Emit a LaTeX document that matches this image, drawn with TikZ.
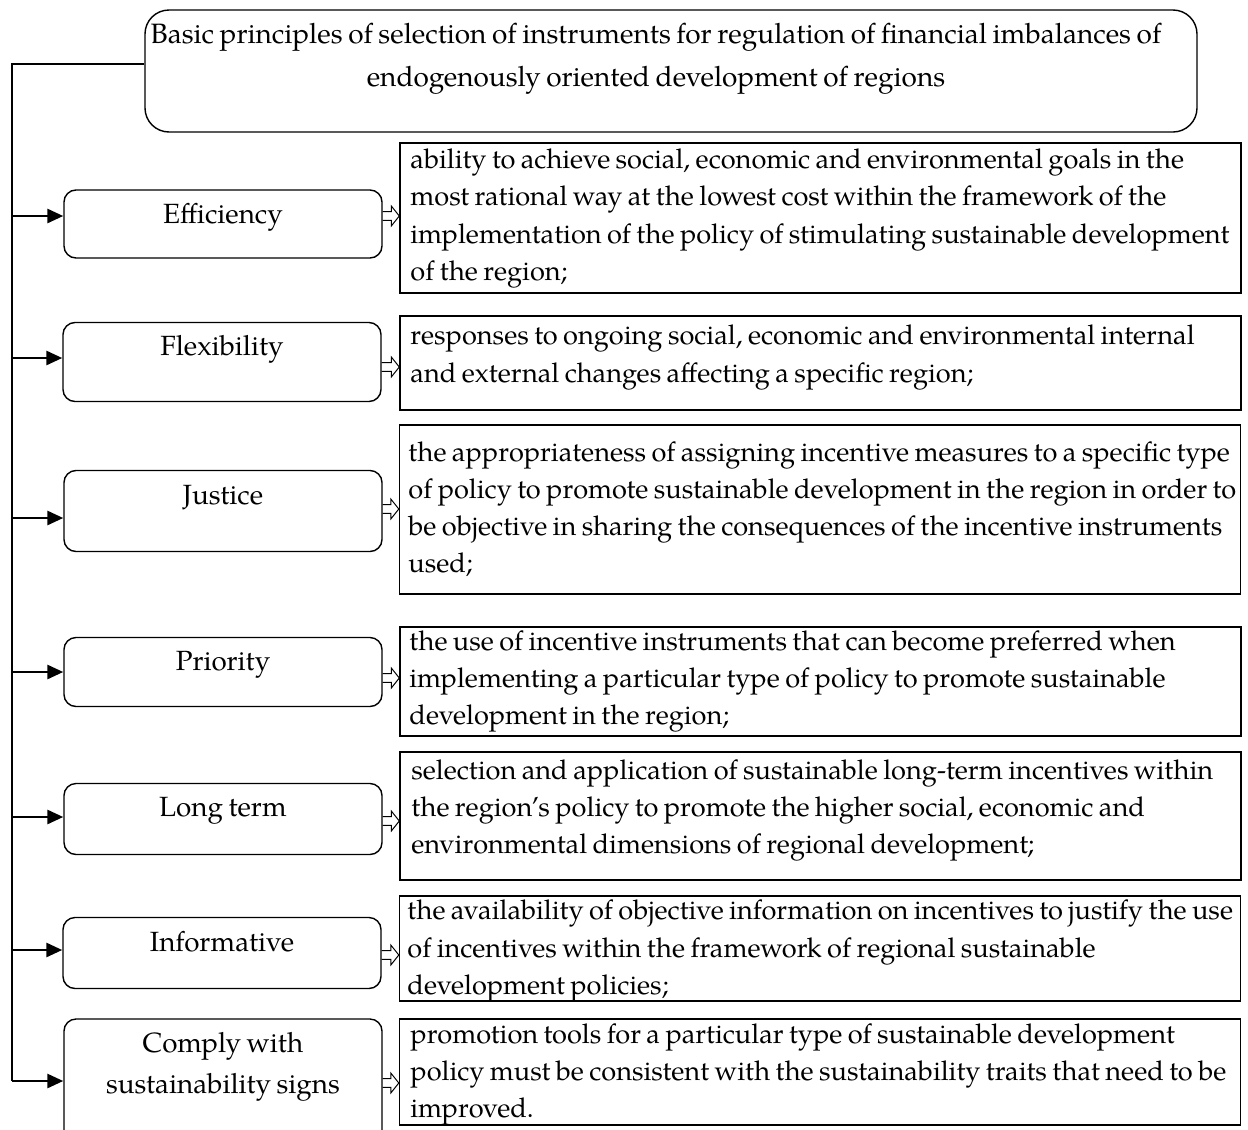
\documentclass[tikz,border=0pt]{standalone}
\usepackage{fontspec}
\setmainfont{texgyrepagella-regular.otf}[WordSpace=0.8]
\usetikzlibrary{arrows.meta}
\begin{document}
\begin{tikzpicture}[x=0.5pt,y=-0.5pt,
  font=\fontsize{13.6}{18.55}\selectfont,
  headbox/.style={draw, line width=0.7pt, rounded corners=12pt,
    minimum width=526pt, minimum height=61pt},
  principle/.style={draw, line width=0.7pt, rounded corners=6pt,
    minimum width=159pt, inner sep=0pt, font=\fontsize{13.9}{20.5}\selectfont},
  explain/.style={draw, line width=0.7pt, minimum width=420.5pt, inner sep=0pt},
  desc/.style={anchor=west, align=left, inner sep=0pt},
  trunkline/.style={line width=0.7pt},
  feed/.style={line width=1.4pt, -{Triangle[length=8pt, width=7pt]}},
  blockarrow/.style={line width=0.5pt, line join=miter}]
\useasboundingbox (0,0) rectangle (1248,1130);

% heading
\node[headbox] (top) at (671,71) {};
\node[align=center, inner sep=0pt, font=\fontsize{14}{21.5}\selectfont] (toptext) at (656,59)
  {Basic principles of selection of instruments for regulation of financial imbalances of\\
   endogenously oriented development of regions};

% principles (labels sit a little above the middle of each box)
\node[principle, minimum height=34pt]   (eff)  at (223,224)  {\raisebox{10.5pt}{Efficiency}};
\node[principle, minimum height=39.5pt] (flex) at (222,362)  {\raisebox{17pt}{Flexibility}};
\node[principle, minimum height=40.5pt] (just) at (223,511)  {\raisebox{16pt}{Justice}};
\node[principle, minimum height=34.5pt] (prio) at (223,672)  {\raisebox{11.5pt}{Priority}};
\node[principle, minimum height=35.5pt] (long) at (223,819)  {\raisebox{12pt}{Long term}};
\node[principle, minimum height=35.5pt] (info) at (222,953)  {\raisebox{11.5pt}{Informative}};
\node[principle, minimum height=62pt]   (comp) at (223,1081) {\raisebox{33pt}{\begin{tabular}{@{}c@{}}Comply with\\ sustainability signs\end{tabular}}};

% explanations
\node[explain, minimum height=75pt]   (effd)  at (820.5,218)  {};
\node[explain, minimum height=47pt]   (flexd) at (820.5,363)  {};
\node[explain, minimum height=84.5pt] (justd) at (820,509.5)  {};
\node[explain, minimum height=54.5pt] (priod) at (820.5,681.5) {};
\node[explain, minimum height=64pt]   (longd) at (820.5,816)  {};
\node[explain, minimum height=52.5pt] (infod) at (820,948.5)  {};
\node[explain, minimum height=53pt]   (compd) at (820,1072)   {};

\node[desc] (efft)  at (410,218.5) {ability to achieve social, economic and environmental goals in the\\
  most rational way at the lowest cost within the framework of the\\
  implementation of the policy of stimulating sustainable development\\
  of the region;};
\node[desc] (flext) at (410,357.5) {responses to ongoing social, economic and environmental internal\\
  and external changes affecting a specific region;};
\node[desc] (justt) at (408,509) {the appropriateness of assigning incentive measures to a specific type\\
  of policy to promote sustainable development in the region in order to\\
  be objective in sharing the consequences of the incentive instruments\\
  used;};
\node[desc] (priot) at (409,681.5) {the use of incentive instruments that can become preferred when\\
  implementing a particular type of policy to promote sustainable\\
  development in the region;};
\node[desc] (longt) at (411,810.5) {selection and application of sustainable long-term incentives within\\
  the region's policy to promote the higher social, economic and\\
  environmental dimensions of regional development;};
\node[desc] (infot) at (407,951) {the availability of objective information on incentives to justify the use\\
  of incentives within the framework of regional sustainable\\
  development policies;};
\node[desc] (compt) at (410,1074.5) {promotion tools for a particular type of sustainable development\\
  policy must be consistent with the sustainability traits that need to be\\
  improved.};

% trunk from the heading down the left side
\coordinate (trunk) at (12,64);
\draw[trunkline] (trunk -| top.west) -- (trunk) -- (trunk |- comp.west);

% arrows from the trunk into each principle
\foreach \p/\s in {eff/4pt, flex/2pt, just/-3.5pt, prio/0pt, long/1pt, info/1.5pt, comp/0pt}
  \draw[feed] ([yshift=\s]trunk |- \p.west) -- ([yshift=\s]\p.west);

% hollow block arrows from each principle to its explanation
\foreach \p/\s in {eff/4pt, flex/-2.5pt, just/1pt, prio/-3pt, long/-1pt, info/-1pt, comp/-1pt}{
  \coordinate (S) at ([yshift=\s]\p.east);
  \coordinate (E) at (S -| \p d.west);
  \draw[blockarrow] ([yshift=2.2pt]S) -- ([xshift=-4pt,yshift=2.2pt]E)
    -- ([xshift=-4pt,yshift=5pt]E) -- (E) -- ([xshift=-4pt,yshift=-5pt]E)
    -- ([xshift=-4pt,yshift=-2.2pt]E) -- ([yshift=-2.2pt]S);
}
\end{tikzpicture}
\end{document}
